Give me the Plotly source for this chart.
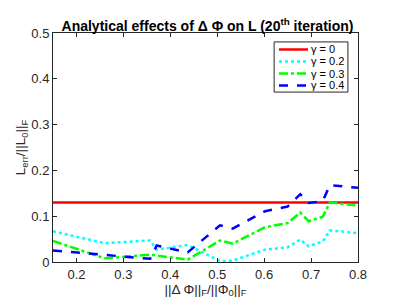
import plotly.graph_objects as go

x_vals = [0.15, 0.26, 0.357, 0.371, 0.437, 0.506, 0.533, 0.602, 0.65, 0.677, 0.695, 0.725, 0.74, 0.8]
gamma0 = [0.13] * len(x_vals)
gamma02 = [0.067, 0.041, 0.047, 0.027, 0.037, 0.002, 0.003, 0.027, 0.032, 0.049, 0.034, 0.045, 0.069, 0.063]
gamma03 = [0.046, 0.008, 0.016, 0.014, 0.005, 0.047, 0.040, 0.076, 0.085, 0.108, 0.089, 0.099, 0.130, 0.123]
gamma04 = [0.025, 0.016, 0.007, 0.036, 0.021, 0.080, 0.073, 0.111, 0.121, 0.148, 0.129, 0.133, 0.168, 0.162]
names = ["γ = 0", "γ = 0.2", "γ = 0.3", "γ = 0.4"]
x_ticks = [0.2, 0.3, 0.4, 0.5, 0.6, 0.7, 0.8]
y_ticks = [0, 0.1, 0.2, 0.3, 0.4, 0.5]

FONT = "Liberation Sans, Arial, sans-serif"
fig = go.Figure()
styles = [("#ff0000", "solid"), ("#00ffff", "dot"), ("#00ff00", "dashdot"), ("#0000ff", "dash")]
for ys, name, (c, d) in zip([gamma0, gamma02, gamma03, gamma04], names, styles):
    fig.add_trace(go.Scatter(x=x_vals, y=ys, name=name, mode="lines",
                             line=dict(color=c, width=2.5, dash=d), showlegend=False))

# compact legend box (MATLAB style) in paper coordinates
leg_rows = [0.928, 0.876, 0.823, 0.771]
fig.add_shape(type="rect", xref="paper", yref="paper", x0=0.725, x1=0.967, y0=0.742, y1=0.961,
              line=dict(color="#262626", width=1), fillcolor="white", layer="above")
for yrow, name, (c, d) in zip(leg_rows, names, styles):
    fig.add_shape(type="line", xref="paper", yref="paper", x0=0.741, x1=0.836, y0=yrow, y1=yrow,
                  line=dict(color=c, width=2.5, dash=d), layer="above")
    fig.add_annotation(xref="paper", yref="paper", x=0.843, y=yrow, text=name, showarrow=False,
                       xanchor="left", yanchor="middle", borderpad=0,
                       font=dict(family=FONT, size=11, color="black"))

axis_common = dict(showline=True, linecolor="#262626", linewidth=1, mirror="allticks",
                   ticks="inside", ticklen=4, tickcolor="#262626", showgrid=False,
                   zeroline=False, tickfont=dict(family=FONT, size=13, color="#262626"))
fig.update_layout(
    width=399, height=300,
    margin=dict(l=45, r=49, t=25, b=46, autoexpand=False),
    paper_bgcolor="white", plot_bgcolor="white",
    title=dict(text="<b>Analytical effects of Δ Φ on L (20<sup>th</sup> iteration)</b>",
               x=0.5, xanchor="center", y=0.94, yanchor="middle",
               font=dict(family=FONT, size=14, color="black")),
    xaxis=dict(range=[0.15, 0.8], tickvals=x_ticks, ticktext=[str(v) for v in x_ticks],
               title=dict(text="||Δ Φ||<sub>F</sub>/||Φ<sub>0</sub>||<sub>F</sub>", standoff=0,
                          font=dict(family=FONT, size=13.5, color="#262626")),
               **axis_common),
    yaxis=dict(range=[0, 0.5], tickvals=y_ticks, ticktext=[str(v) for v in y_ticks],
               title=dict(text="L<sub>err</sub>/||L<sub>0</sub>||<sub>F</sub>", standoff=2,
                          font=dict(family=FONT, size=13.5, color="#262626")),
               **axis_common),
    showlegend=False,
)
fig.write_html("out.html")
